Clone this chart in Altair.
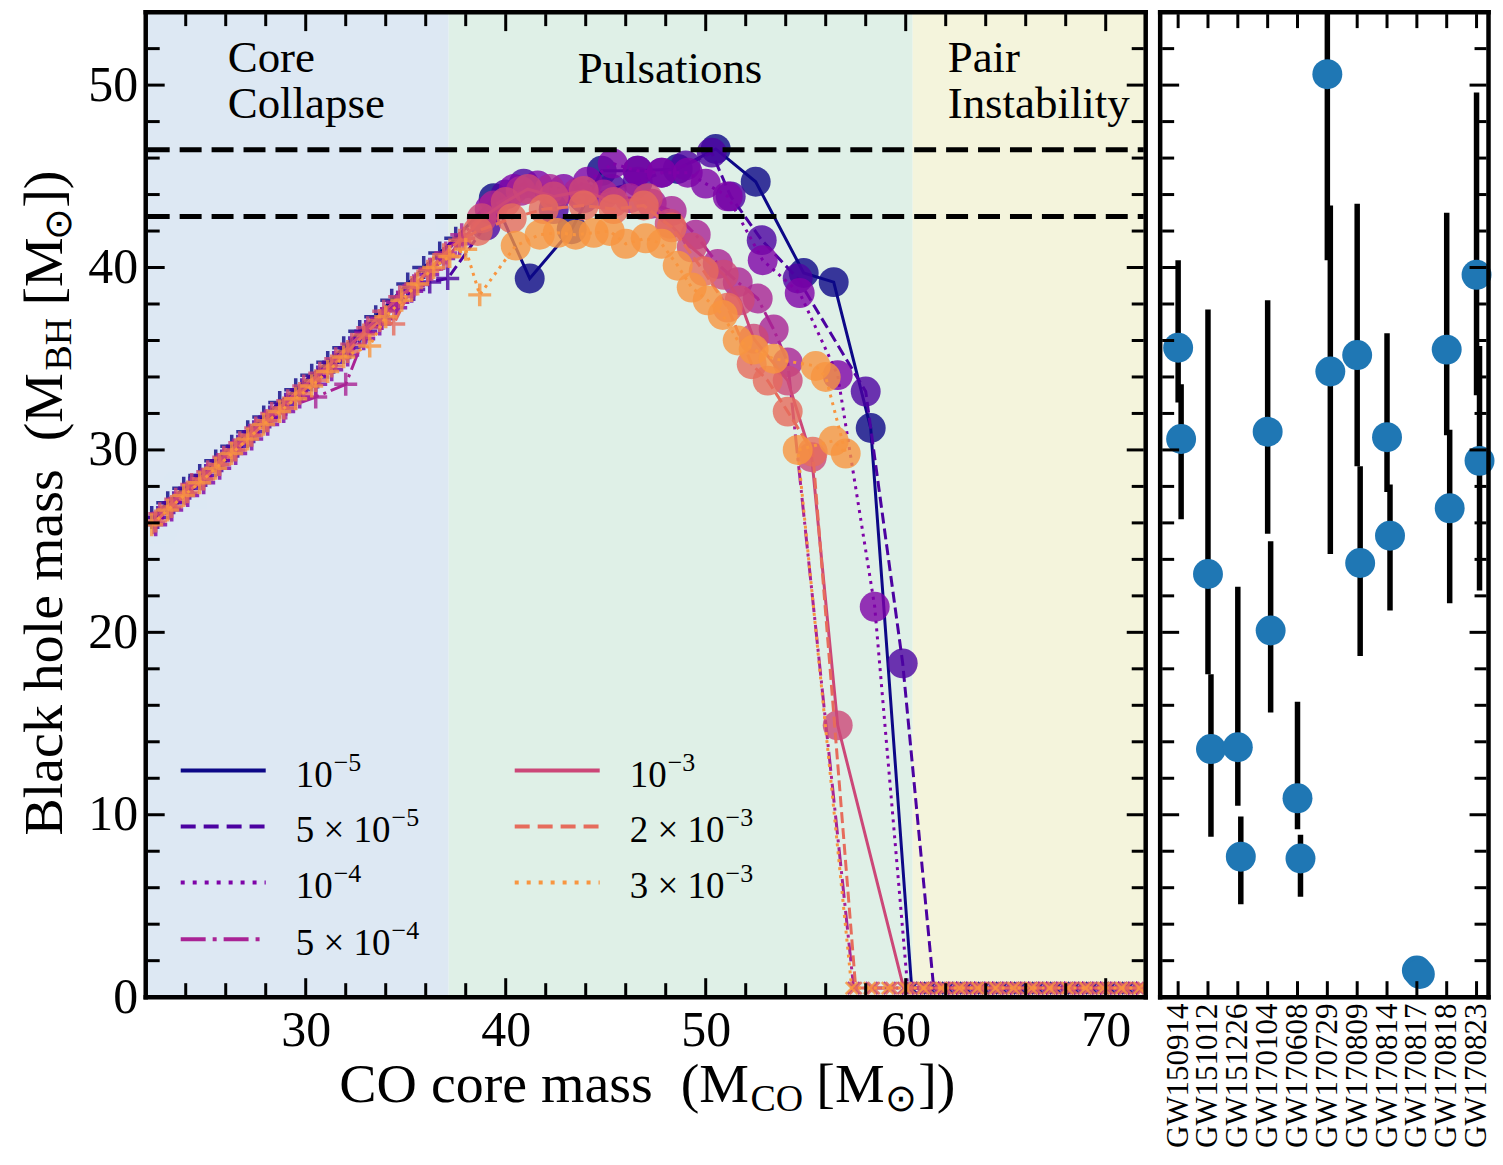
import altair as alt
import pandas as pd

FONT = "Liberation Serif"
W1, W2, H = 1002, 329, 987

# ---------------- left panel: values ----------------
REGION_START = [22.0, 37.15, 60.35]
REGION_END = [37.15, 60.35, 72.0]
LIMIT_Y = [46.45, 42.8]

RATE_BASE = ["10", "5 × 10", "10", "5 × 10", "10", "2 × 10", "3 × 10"]
RATE_EXP = ["−5", "−5", "−4", "−4", "−3", "−3", "−3"]
PI_LEVEL = 0.5  # BH mass shown for pair-instability models

# 1e-5
S1_CC_X = [22.3, 23.1, 23.9, 24.7, 25.5, 26.3, 27.1, 27.9, 28.7, 29.5, 30.3, 31.1, 31.9, 32.7, 33.5, 34.3, 35.1, 35.9, 36.7, 37.5]
S1_CC_Y = [26.3, 27.1, 27.9, 28.6, 29.4, 30.2, 31.0, 31.8, 32.6, 33.3, 34.1, 34.8, 35.6, 36.5, 37.3, 38.2, 39.1, 40.0, 40.8, 41.6]
S1_PP_X = [39.4, 41.2, 43.3, 44.8, 46.6, 48.6, 50.5, 52.5, 54.9, 56.4, 58.25]
S1_PP_Y = [43.8, 39.4, 42.1, 45.3, 45.3, 45.4, 46.5, 44.7, 39.7, 39.2, 31.2]
S1_PI_X = [60.3, 61.2, 62.1, 63.0, 63.9, 64.8, 65.7, 66.6, 67.5, 68.4, 69.3, 70.2, 71.1]
# 5e-5
S2_CC_X = [22.6, 23.4, 24.2, 25.0, 25.8, 26.6, 27.4, 28.2, 29.0, 29.8, 30.6, 31.4, 32.2, 33.0, 33.8, 34.6, 35.4, 36.2, 37.1]
S2_CC_Y = [26.3, 27.1, 27.9, 28.6, 29.4, 30.2, 31.0, 31.8, 32.5, 33.3, 34.0, 34.8, 35.6, 36.5, 37.2, 38.1, 38.8, 39.2, 39.4]
S2_PP_X = [39.0, 40.0, 40.9, 42.4, 43.9, 45.3, 46.6, 47.8, 49.0, 50.3, 51.25, 52.8, 54.6, 58.0, 59.85]
S2_PP_Y = [42.3, 44.0, 44.6, 43.2, 43.8, 44.3, 44.7, 45.2, 45.6, 46.3, 43.9, 41.5, 39.4, 33.2, 18.3]
S2_PI_X = [61.4, 62.3, 63.2, 64.1, 65.0, 65.9, 66.8, 67.7, 68.6, 69.5, 70.4, 71.3]
# 1e-4
S3_CC_X = [22.5, 23.3, 24.1, 24.9, 25.7, 26.5, 27.3, 28.1, 28.9, 29.7, 30.5, 31.3, 32.1, 32.9, 33.7, 34.5, 35.3, 36.1, 36.9, 37.7]
S3_CC_Y = [25.9, 26.7, 27.5, 28.2, 29.0, 29.8, 30.6, 31.4, 32.1, 32.9, 33.6, 34.4, 35.2, 36.1, 36.9, 37.8, 38.7, 39.6, 40.5, 41.3]
S3_PP_X = [39.2, 40.4, 41.6, 42.9, 44.1, 45.35, 46.6, 47.8, 49.1, 50.0, 51.1, 52.85, 54.7, 56.6, 58.45]
S3_PP_Y = [43.2, 44.3, 44.5, 44.3, 44.7, 45.7, 45.3, 45.2, 45.2, 44.6, 43.9, 40.4, 38.6, 34.1, 21.4]
S3_PI_X = [60.1, 61.0, 61.9, 62.8, 63.7, 64.6, 65.5, 66.4, 67.3, 68.2, 69.1, 70.0, 70.9, 71.8]
# 5e-4
S4_CC_X = [22.4, 23.2, 24.0, 24.8, 25.6, 26.4, 27.2, 28.0, 29.0, 30.5, 32.0, 33.0, 33.8, 34.6, 35.4, 36.2, 37.0, 37.8]
S4_CC_Y = [26.0, 26.8, 27.6, 28.4, 29.2, 30.0, 30.8, 31.6, 32.3, 32.9, 33.6, 36.4, 37.2, 38.1, 39.0, 39.9, 40.8, 41.8]
S4_PP_X = [39.4, 40.75, 42.2, 43.6, 44.9, 46.2, 47.3, 48.3, 49.5, 50.6, 51.6, 52.6, 53.4, 54.1]
S4_PP_Y = [43.4, 44.2, 44.3, 44.1, 44.0, 43.8, 43.5, 43.1, 41.8, 40.2, 39.2, 38.3, 36.6, 34.8]
S4_PI_X = [57.4, 58.3, 59.2, 60.1, 61.0, 61.9, 62.8, 63.7, 64.6, 65.5, 66.4, 67.3, 68.2, 69.1, 70.0, 70.9, 71.8]
# 1e-3
S5_CC_X = [22.7, 23.5, 24.3, 25.1, 25.9, 26.7, 27.5, 28.3, 29.1, 29.9, 30.7, 31.5, 32.3, 33.1, 33.9, 34.7, 35.5, 36.3, 37.1, 37.9]
S5_CC_Y = [26.5, 27.3, 28.1, 28.8, 29.6, 30.4, 31.2, 32.0, 32.7, 33.5, 34.2, 35.0, 35.8, 36.7, 37.6, 38.4, 39.1, 39.9, 40.6, 41.6]
S5_PP_X = [38.8, 40.0, 41.1, 42.4, 43.9, 45.4, 47.1, 48.2, 49.3, 50.9, 51.7, 52.4, 54.1, 55.3, 56.6]
S5_PP_Y = [42.7, 43.6, 44.3, 43.9, 44.2, 43.6, 43.8, 42.4, 41.1, 39.6, 38.2, 36.1, 33.8, 29.6, 14.9]
S5_PI_X = [59.9, 60.8, 61.7, 62.6, 63.5, 64.4, 65.3, 66.2, 67.1, 68.0, 68.9, 69.8, 70.7, 71.6]
# 2e-3
S6_CC_X = [22.5, 23.3, 24.1, 24.9, 25.7, 26.5, 27.3, 28.1, 28.9, 29.7, 30.5, 31.3, 32.1, 32.9, 33.7, 34.4, 35.3, 36.1, 36.9, 37.7]
S6_CC_Y = [26.1, 26.9, 27.7, 28.4, 29.2, 30.0, 30.8, 31.6, 32.3, 33.1, 33.8, 34.6, 35.4, 36.3, 37.1, 36.9, 38.9, 39.8, 40.7, 41.5]
S6_PP_X = [38.6, 40.3, 41.9, 43.9, 45.4, 46.9, 48.3, 49.9, 51.1, 52.3, 53.1, 54.1, 55.35]
S6_PP_Y = [42.0, 42.7, 43.2, 43.4, 43.2, 43.4, 42.2, 39.8, 37.8, 34.7, 33.8, 32.1, 29.9]
S6_PI_X = [57.5, 58.4, 59.3, 60.2, 61.1, 62.0, 62.9, 63.8, 64.7, 65.6, 66.5, 67.4, 68.3, 69.2, 70.1, 71.0, 71.9]
# 3e-3
S7_CC_X = [22.3, 23.1, 23.9, 24.7, 25.5, 26.3, 27.1, 27.9, 28.7, 29.5, 30.3, 31.1, 31.9, 33.2, 34.0, 34.8, 35.6, 36.4, 37.2, 38.0, 38.7]
S7_CC_Y = [25.9, 26.7, 27.5, 28.2, 29.0, 29.8, 30.6, 31.4, 32.1, 32.8, 33.5, 34.3, 35.1, 35.7, 37.3, 38.2, 39.1, 40.0, 40.6, 41.0, 38.5]
S7_PP_X = [40.5, 41.7, 42.6, 43.5, 44.4, 45.2, 46.0, 47.0, 47.8, 48.6, 49.3, 50.1, 50.85, 51.6, 52.4, 53.4, 55.5, 56.0, 57.0, 56.4, 54.6]
S7_PP_Y = [41.2, 41.8, 41.9, 41.8, 41.9, 42.0, 41.3, 41.6, 41.3, 40.1, 38.9, 38.2, 37.4, 36.0, 35.5, 35.0, 34.6, 34.0, 29.8, 30.5, 30.0]
S7_PI_X = [57.3, 58.2, 59.1, 60.0, 60.9, 61.8, 62.7, 63.6, 64.5, 65.4, 66.3, 67.2, 68.1, 69.0, 69.9, 70.8, 71.7]

# ---------------- right panel: values ----------------
GW_NAMES = ["GW150914", "GW151012", "GW151226", "GW170104", "GW170608", "GW170729",
            "GW170809", "GW170814", "GW170817", "GW170818", "GW170823"]
M1 = [35.6, 23.2, 13.7, 31.0, 10.9, 50.6, 35.2, 30.7, 1.46, 35.5, 39.6]
M1_LO = [3.0, 5.5, 3.2, 5.6, 1.7, 10.2, 6.1, 3.0, 0.10, 4.7, 6.6]
M1_HI = [4.8, 14.5, 8.8, 7.2, 5.3, 16.6, 8.3, 5.7, 0.12, 7.5, 10.0]
M2 = [30.6, 13.6, 7.7, 20.1, 7.6, 34.3, 23.8, 25.3, 1.27, 26.8, 29.4]
M2_LO = [4.4, 4.8, 2.6, 4.5, 2.1, 10.0, 5.1, 4.1, 0.09, 5.2, 7.1]
M2_HI = [3.0, 4.1, 2.2, 4.9, 1.3, 9.1, 5.3, 2.8, 0.09, 4.3, 6.3]

# ---------------- styles / layout ----------------
COLORS = ["#0d0887", "#4c02a1", "#7e03a8", "#a92395", "#cc4778", "#e66c5c", "#f89540"]
DASHES = [None, [11, 5], [3, 5], [19, 5, 3, 5], None, [11, 5], [3, 5]]
LEG_DASHES = [None, [15, 8], [4, 8], [25, 7, 4, 7], None, [15, 8], [4, 8]]
REGION_FILLS = ["#dde8f3", "#dff0e7", "#f4f4dc"]
CROSS = "M-1,0L1,0M0,-1L0,1"
XMARK = "M-1,-1L1,1M-1,1L1,-1"

LEG_X0 = [23.75, 23.75, 23.75, 23.75, 40.45, 40.45, 40.45]
LEG_X1 = [28.0, 28.0, 28.0, 28.0, 44.7, 44.7, 44.7]
LEG_TX = [29.5, 29.5, 29.5, 29.5, 46.2, 46.2, 46.2]
LEG_Y = [12.42, 9.36, 6.29, 3.17, 12.42, 9.36, 6.29]
LEG_EXP_DX = [38, 96, 38, 96, 38, 96, 96]

ANN_TEXT = ["Core", "Collapse", "Pulsations", "Pair", "Instability"]
ANN_X = [26.1, 26.1, 43.6, 62.1, 62.1]
ANN_Y = [50.7, 48.2, 50.1, 50.7, 48.2]

X_MAJOR = [30, 40, 50, 60, 70]
X_MINOR = [24, 26, 28, 32, 34, 36, 38, 42, 44, 46, 48, 52, 54, 56, 58, 62, 64, 66, 68]
Y_MAJOR = [0, 10, 20, 30, 40, 50]
Y_MINOR = [2, 4, 6, 8, 12, 14, 16, 18, 22, 24, 26, 28, 32, 34, 36, 38, 42, 44, 46, 48, 52]

YT_TEXT = ["Black hole mass\u00a0\u00a0(M", "BH", "[M", "\u2299", "])"]
YT_SIZE = [56, 38, 56, 38, 56]
YT_POS = [825, 359, 294, 228, 196]
YT_BASE = [-84, -75, -84, -75, -84]
XT_TEXT = ["CO core mass\u00a0\u00a0(M", "CO", "[M", "\u2299", "])"]
XT_SIZE = [56, 38, 56, 38, 56]
XT_POS = [194, 606, 672, 741, 774]
XT_BASE = [1092, 1101, 1092, 1101, 1092]

MAJ_LEN, MIN_LEN, TICK_W = 19, 14, 3
FRAME_HALF = 2.25
ONE = alt.Data(values=[{"a": 1}])

XS = alt.Scale(domain=[22, 72], nice=False, zero=False)
YS = alt.Scale(domain=[0, 54], nice=False, zero=False)
AX_X = alt.Axis(values=X_MAJOR, title=None, domain=False, ticks=False, tickSize=0, grid=False,
                labelFont=FONT, labelFontSize=50, labelPadding=8, labelColor="black",
                labelFlush=False, labelOverlap=False)
AX_Y = alt.Axis(values=Y_MAJOR, title=None, domain=False, ticks=False, tickSize=0, grid=False,
                labelFont=FONT, labelFontSize=50, labelPadding=8, labelColor="black",
                labelFlush=False, labelOverlap=False)


def X(f):
    return alt.X(f, scale=XS, axis=AX_X)


def Y(f):
    return alt.Y(f, scale=YS, axis=AX_Y)


def tick_layers(xvals_maj, xvals_min, yvals_maj, yvals_min, xenc, yenc, w, h, xlen_maj, xlen_min):
    out = []
    for vals, ln in ((xvals_maj, xlen_maj), (xvals_min, xlen_min)):
        if not vals:
            continue
        d = pd.DataFrame({"v": vals})
        base = alt.Chart(d).mark_rule(color="black", strokeWidth=TICK_W)
        out.append(base.encode(x=xenc("v:Q"), y=alt.value(h - 2), y2=alt.value(h - ln)))
        out.append(base.encode(x=xenc("v:Q"), y=alt.value(2), y2=alt.value(ln)))
    for vals, ln in ((yvals_maj, MAJ_LEN), (yvals_min, MIN_LEN)):
        d = pd.DataFrame({"v": vals})
        base = alt.Chart(d).mark_rule(color="black", strokeWidth=TICK_W)
        out.append(base.encode(y=yenc("v:Q"), x=alt.value(2), x2=alt.value(ln)))
        out.append(base.encode(y=yenc("v:Q"), x=alt.value(w - 2), x2=alt.value(w - ln)))
    return out


def frame(w, h):
    t = FRAME_HALF
    bars = [(-t, w + t, -t, t), (-t, w + t, h - t, h + t), (-t, t, -t, h + t), (w - t, w + t, -t, h + t)]
    out = []
    for x0, x1, y0, y1 in bars:
        out.append(alt.Chart(ONE).mark_rect(color="black").encode(
            x=alt.value(x0), x2=alt.value(x1), y=alt.value(y0), y2=alt.value(y1)))
    return out


# ---------------- left panel ----------------
SERIES = [
    (S1_CC_X, S1_CC_Y, S1_PP_X, S1_PP_Y, S1_PI_X),
    (S2_CC_X, S2_CC_Y, S2_PP_X, S2_PP_Y, S2_PI_X),
    (S3_CC_X, S3_CC_Y, S3_PP_X, S3_PP_Y, S3_PI_X),
    (S4_CC_X, S4_CC_Y, S4_PP_X, S4_PP_Y, S4_PI_X),
    (S5_CC_X, S5_CC_Y, S5_PP_X, S5_PP_Y, S5_PI_X),
    (S6_CC_X, S6_CC_Y, S6_PP_X, S6_PP_Y, S6_PI_X),
    (S7_CC_X, S7_CC_Y, S7_PP_X, S7_PP_Y, S7_PI_X),
]

layers = []
regions = pd.DataFrame({"x0": REGION_START, "x1": REGION_END, "fill": REGION_FILLS})
layers.append(alt.Chart(regions).mark_rect().encode(
    x=X("x0:Q"), x2="x1:Q", y=alt.value(0), y2=alt.value(H),
    fill=alt.Fill("fill:N", scale=None, legend=None)))
# invisible element fixing the left extent of the figure
layers.append(alt.Chart(ONE).mark_rule(opacity=0).encode(
    x=alt.value(-138), y=alt.value(0), y2=alt.value(10)))

for k, (cx, cy, px, py, ix) in enumerate(SERIES):
    rows = []
    for a, b in zip(cx, cy):
        rows.append({"x": a, "y": b, "kind": "cc"})
    for a, b in zip(px, py):
        rows.append({"x": a, "y": b, "kind": "pp"})
    for a in ix:
        rows.append({"x": a, "y": PI_LEVEL, "kind": "pi"})
    df = pd.DataFrame(rows)
    df["i"] = range(len(df))
    c = COLORS[k]
    base = alt.Chart(df)
    lkw = dict(color=c, strokeWidth=3, clip=True)
    if DASHES[k]:
        lkw["strokeDash"] = DASHES[k]
    layers.append(base.mark_line(**lkw).encode(x=X("x:Q"), y=Y("y:Q"), order="i:Q"))
    layers.append(base.transform_filter("datum.kind == 'cc'").mark_point(
        shape=CROSS, size=529, strokeWidth=3.5, color=c, opacity=0.8, clip=True).encode(
        x=X("x:Q"), y=Y("y:Q")))
    layers.append(base.transform_filter("datum.kind == 'pp'").mark_circle(
        size=900, color=c, opacity=0.8, clip=True).encode(x=X("x:Q"), y=Y("y:Q")))
    layers.append(base.transform_filter("datum.kind == 'pi'").mark_point(
        shape=XMARK, size=144, strokeWidth=2.5, color=c, opacity=0.85, clip=True).encode(
        x=X("x:Q"), y=Y("y:Q")))

lim = pd.DataFrame({"y": LIMIT_Y})
layers.append(alt.Chart(lim).mark_rule(color="black", strokeWidth=5, strokeDash=[22, 10]).encode(
    y=Y("y:Q"), x=alt.value(2), x2=alt.value(W1 - 2)))

for k in range(7):
    d = pd.DataFrame({"x0": [LEG_X0[k]], "x1": [LEG_X1[k]], "y": [LEG_Y[k]],
                      "tx": [LEG_TX[k]], "base": [RATE_BASE[k]], "exp": [RATE_EXP[k]]})
    rkw = dict(color=COLORS[k], strokeWidth=4)
    if LEG_DASHES[k]:
        rkw["strokeDash"] = LEG_DASHES[k]
    layers.append(alt.Chart(d).mark_rule(**rkw).encode(x=X("x0:Q"), x2="x1:Q", y=Y("y:Q")))
    layers.append(alt.Chart(d).mark_text(font=FONT, fontSize=37, align="left", baseline="alphabetic",
                                         dy=16, color="black").encode(
        x=X("tx:Q"), y=Y("y:Q"), text="base:N"))
    layers.append(alt.Chart(d).mark_text(font=FONT, fontSize=26, align="left", baseline="alphabetic",
                                         dx=LEG_EXP_DX[k], dy=0, color="black").encode(
        x=X("tx:Q"), y=Y("y:Q"), text="exp:N"))

ann = pd.DataFrame({"x": ANN_X, "y": ANN_Y, "t": ANN_TEXT})
layers.append(alt.Chart(ann).mark_text(font=FONT, fontSize=45, align="left", baseline="alphabetic",
                                       color="black").encode(x=X("x:Q"), y=Y("y:Q"), text="t:N"))

layers += tick_layers(X_MAJOR, X_MINOR, Y_MAJOR, Y_MINOR, X, Y, W1, H, MAJ_LEN, MIN_LEN)
layers += frame(W1, H)

for t, s, p, b in zip(YT_TEXT, YT_SIZE, YT_POS, YT_BASE):
    layers.append(alt.Chart(ONE).mark_text(text=t, font=FONT, fontSize=s, angle=270, align="left",
                                           baseline="alphabetic", color="black").encode(
        x=alt.value(b), y=alt.value(p)))
for t, s, p, b in zip(XT_TEXT, XT_SIZE, XT_POS, XT_BASE):
    layers.append(alt.Chart(ONE).mark_text(text=t, font=FONT, fontSize=s, align="left",
                                           baseline="alphabetic", color="black").encode(
        x=alt.value(p), y=alt.value(b)))

left = alt.layer(*layers).properties(width=W1, height=H)

# ---------------- right panel ----------------
XS2 = alt.Scale(domain=[-0.602, 10.401], nice=False, zero=False)
label_expr = "[" + ",".join("'%s'" % n for n in GW_NAMES) + "][datum.value]"
AX_X2 = alt.Axis(values=list(range(len(GW_NAMES))), labelExpr=label_expr, title=None, domain=False,
                 ticks=False, tickSize=0, grid=False, labelFont=FONT, labelFontSize=31,
                 labelAngle=270, labelAlign="right", labelBaseline="middle", labelPadding=6,
                 labelColor="black", labelFlush=False, labelOverlap=False)


def X2(f):
    return alt.X(f, scale=XS2, axis=AX_X2)


def Y2(f):
    return alt.Y(f, scale=YS, axis=None)


rrows = []
for i in range(len(GW_NAMES)):
    rrows.append({"pos": i, "m": M1[i], "lo": M1[i] - M1_LO[i], "hi": M1[i] + M1_HI[i]})
    rrows.append({"pos": i + 0.1, "m": M2[i], "lo": M2[i] - M2_LO[i], "hi": M2[i] + M2_HI[i]})
gw = pd.DataFrame(rrows)

rlayers = []
rlayers.append(alt.Chart(gw).mark_rule(color="black", strokeWidth=5.5, clip=True).encode(
    x=X2("pos:Q"), y=Y2("lo:Q"), y2="hi:Q"))
rlayers.append(alt.Chart(gw).mark_circle(size=900, color="#1f77b4", opacity=1).encode(
    x=X2("pos:Q"), y=Y2("m:Q")))
rlayers += tick_layers(list(range(len(GW_NAMES))), [], Y_MAJOR, Y_MINOR, X2, Y2, W2, H, 16, 16)
rlayers += frame(W2, H)
right = alt.layer(*rlayers).properties(width=W2, height=H)

chart = alt.hconcat(left, right, spacing=8.5).properties(
    padding={"left": 0, "top": 0, "right": 0, "bottom": 0}
).configure_view(strokeWidth=0)

chart.save("out.html", embed_options={"renderer": "svg", "actions": False})
